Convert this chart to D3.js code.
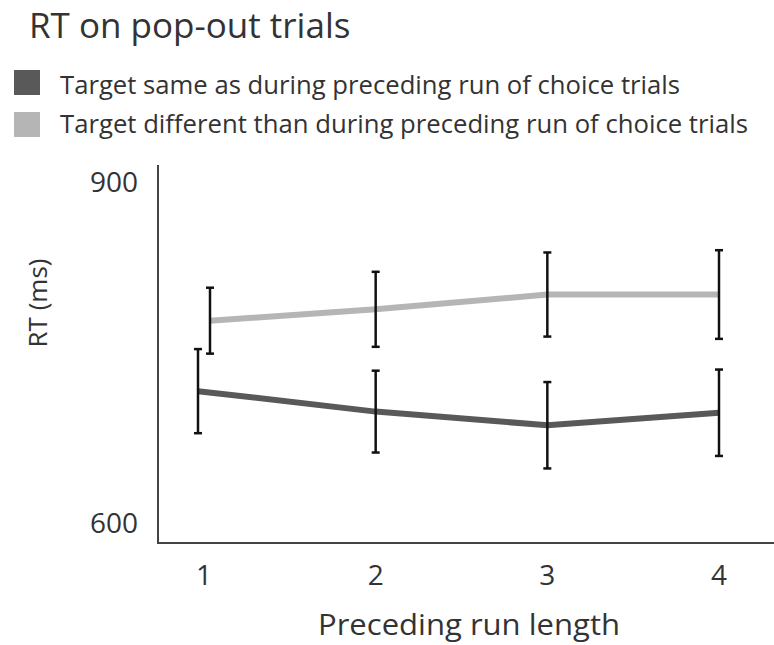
<!DOCTYPE html>
<html>
<head lang="en">
  <title>RT on pop-out trials</title>
  <script src="https://d3js.org/d3.v7.min.js" charset="utf-8"></script>
  <style>
    body { margin: 0; background: #fff; }
    text { font-family: 'Open Sans', sans-serif; fill: #333; }
  </style>
</head>
<body>
  <script>

    // data
    var runLengths = [1, 2, 3, 4];
    var seriesNames = [
      "Target same as during preceding run of choice trials",
      "Target different than during preceding run of choice trials"
    ];
    var sameRT = [716, 698, 686, 697];
    var sameErr = [37, 36, 38, 38];
    var diffRT = [778, 788, 801, 801];
    var diffErr = [29, 33, 37, 39];
    var seriesColors = ["#595959", "#b5b5b5"];
    var yTicks = [600, 900];

    var width = 774;
    var height = 645;

    var svg = d3.select("body")
      .append("svg")
      .attr("width", width)
      .attr("height", height);

    // scales
    var x = d3.scaleLinear()
      .domain([1, 4])
      .range([204, 719]);

    var y = d3.scaleLinear()
      .domain([600, 900])
      .range([523, 182]);

    var axisLeft = 158, axisTop = 165, axisBottom = 543, axisRight = 774;

    // dodge only at run length 1 (the bars overlap there)
    var dodge = [[-6, 6], [0, 0], [0, 0], [0, 0]];

    var series = [
      { name: seriesNames[0], color: seriesColors[0], values: sameRT, errs: sameErr, k: 0 },
      { name: seriesNames[1], color: seriesColors[1], values: diffRT, errs: diffErr, k: 1 }
    ];

    //TITLE
    svg.append("text")
      .attr("x", 29)
      .attr("y", 38)
      .attr("font-size", "35px")
      .text("RT on pop-out trials");

    //LEGEND
    var legend = svg.append("g")
      .attr("transform", "translate(14, 70)");

    var item = legend.selectAll("g")
      .data(series)
      .enter().append("g")
        .attr("transform", function(d, i) { return "translate(0," + (i * 42) + ")"; });

    item.append("rect")
      .attr("width", 26)
      .attr("height", 25)
      .attr("fill", function(d) { return d.color; });

    item.append("text")
      .attr("x", 46)
      .attr("y", function(d, i) { return i ? 21 : 24; })
      .attr("font-size", "25px")
      .attr("textLength", function(d, i) { return i ? 688 : 620; })
      .attr("lengthAdjust", "spacingAndGlyphs")
      .text(function(d) { return d.name; });

    //AXES
    svg.append("path")
      .attr("d", "M" + axisLeft + "," + axisTop + "V" + axisBottom + "H" + axisRight)
      .attr("fill", "none")
      .attr("stroke", "#444")
      .attr("stroke-width", 2);

    svg.selectAll(".ytick")
      .data(yTicks)
      .enter().append("text")
        .attr("class", "ytick")
        .attr("x", 138)
        .attr("y", function(d) { return y(d); })
        .attr("dy", "0.35em")
        .attr("text-anchor", "end")
        .attr("font-size", "28px")
        .text(function(d) { return d; });

    svg.selectAll(".xtick")
      .data(runLengths)
      .enter().append("text")
        .attr("class", "xtick")
        .attr("x", function(d) { return x(d); })
        .attr("y", 585)
        .attr("text-anchor", "middle")
        .attr("font-size", "28px")
        .text(function(d) { return d; });

    svg.append("text")
      .attr("x", 469)
      .attr("y", 635)
      .attr("text-anchor", "middle")
      .attr("font-size", "29px")
      .attr("textLength", 302)
      .attr("lengthAdjust", "spacingAndGlyphs")
      .text("Preceding run length");

    svg.append("text")
      .attr("transform", "translate(47, 303) rotate(-90)")
      .attr("text-anchor", "middle")
      .attr("font-size", "26px")
      .text("RT (ms)");

    //LINES
    var line = d3.line()
      .x(function(d) { return d.x; })
      .y(function(d) { return y(d.v); });

    function points(s) {
      return s.values.map(function(v, i) {
        return { x: x(runLengths[i]) + dodge[i][s.k], v: v, e: s.errs[i] };
      });
    }

    series.forEach(function(s) {
      var pts = points(s);

      svg.append("path")
        .datum(pts)
        .attr("d", line)
        .attr("fill", "none")
        .attr("stroke", s.color)
        .attr("stroke-width", 6);

      var bars = svg.append("g")
        .selectAll("g")
        .data(pts)
        .enter().append("g");

      bars.append("line")
        .attr("x1", function(d) { return d.x; })
        .attr("x2", function(d) { return d.x; })
        .attr("y1", function(d) { return y(d.v + d.e); })
        .attr("y2", function(d) { return y(d.v - d.e); })
        .attr("stroke", "#111")
        .attr("stroke-width", 2.5);

      [1, -1].forEach(function(sign) {
        bars.append("line")
          .attr("x1", function(d) { return d.x - 4; })
          .attr("x2", function(d) { return d.x + 4; })
          .attr("y1", function(d) { return y(d.v + sign * d.e); })
          .attr("y2", function(d) { return y(d.v + sign * d.e); })
          .attr("stroke", "#111")
          .attr("stroke-width", 2.5);
      });
    });

  </script>
</body>
</html>
